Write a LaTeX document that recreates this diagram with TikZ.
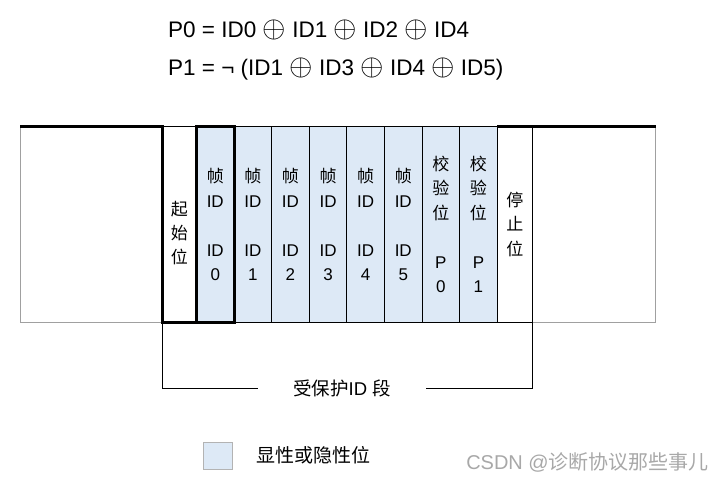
\documentclass[tikz,border=0pt]{standalone}
\usepackage{fontspec}
\setmainfont{Liberation Sans}
\newfontfamily\cjk{Noto Sans CJK SC}
\usetikzlibrary{positioning}
\definecolor{bitfill}{HTML}{DDE9F6}
\definecolor{framec}{HTML}{A0A0A0}
\definecolor{markc}{HTML}{A8A8A8}
\newcommand{\xorop}{\scalebox{1.45}{$\oplus$}}
\tikzset{
  frame/.style={draw=framec, line width=0.9pt, anchor=north west, inner sep=0pt,
                minimum width=#1, minimum height=196pt},
  cell/.style={draw, line width=0.9pt, fill=bitfill, anchor=north west, inner sep=0pt,
               minimum width=37.6pt, minimum height=196pt, align=center,
               font=\fontsize{17}{24.5}\selectfont},
  plain/.style={cell, fill=white, minimum width=#1},
  heavy/.style={line width=3pt},
  txt/.style={inner sep=0pt, align=center},
}
\begin{document}
\begin{tikzpicture}[x=1pt, y=-1pt]
  \useasboundingbox (0,0) rectangle (724,482);

  % parity formulas
  \node[txt, anchor=base west, font=\fontsize{22.5}{26}\selectfont] (eqp0) at (168,37)
    {P0 = ID0 \xorop{} ID1 \xorop{} ID2 \xorop{} ID4};
  \node[txt, anchor=base west, font=\fontsize{22.5}{26}\selectfont] (eqp1) at (168,75)
    {P1 = ¬ (ID1 \xorop{} ID3 \xorop{} ID4 \xorop{} ID5)};

  % idle line on both sides
  \node[frame=142pt] (lbox) at (20,126) {};
  \node[frame=123pt] (rbox) at (532,126) {};

  % start bit
  \node[plain=34pt] (start) at (162,126) {};
  \node[txt, font=\cjk\fontsize{17}{24}\selectfont] at ([yshift=-9pt]start.center) {起\\始\\位};

  % identifier bits and parity bits
  \foreach \i in {0,...,5}
    \node[cell] (id\i) at (196+37.6*\i,126) {{\cjk 帧}\\ID\\[24.5pt]ID\\\i};
  \node[cell] (p0) at (421.6,126) {{\cjk 校}\\{\cjk 验}\\{\cjk 位}\\[24.5pt]P\\0};
  \node[cell] (p1) at (459.2,126) {{\cjk 校}\\{\cjk 验}\\{\cjk 位}\\[24.5pt]P\\1};

  % stop bit
  \node[plain=35pt, font=\cjk\fontsize{17}{24.5}\selectfont] (stop) at (497,126) {停\\止\\位};

  % heavy signal level
  \draw[heavy] (lbox.north west) -- (lbox.north east) -- (lbox.south east) -- (start.south east);
  \draw[heavy] (id0.north west) rectangle (id0.south east);
  \draw[heavy] (stop.north west) -- (rbox.north east);

  % protected field bracket
  \node[txt, minimum width=168pt, font=\fontsize{18.5}{22}\selectfont] (guard) at (342,388)
    {{\cjk 受保护}ID {\cjk 段}};
  \draw[line width=0.9pt] (start.south west) |- (guard.west);
  \draw[line width=0.9pt] (guard.east) -| (stop.north east);

  % legend
  \node[draw=framec!80, fill=bitfill, line width=0.9pt, minimum width=29pt, minimum height=27pt,
        inner sep=0pt] (key) at (217.5,455.5) {};
  \node[txt, right=24pt of key, font=\cjk\fontsize{19}{22}\selectfont] (keytxt) {显性或隐性位};

  \node[txt, anchor=east, text=markc, font=\fontsize{20}{24}\selectfont] (mark) at (709,462)
    {CSDN @{\cjk 诊断协议那些事儿}};
\end{tikzpicture}
\end{document}
